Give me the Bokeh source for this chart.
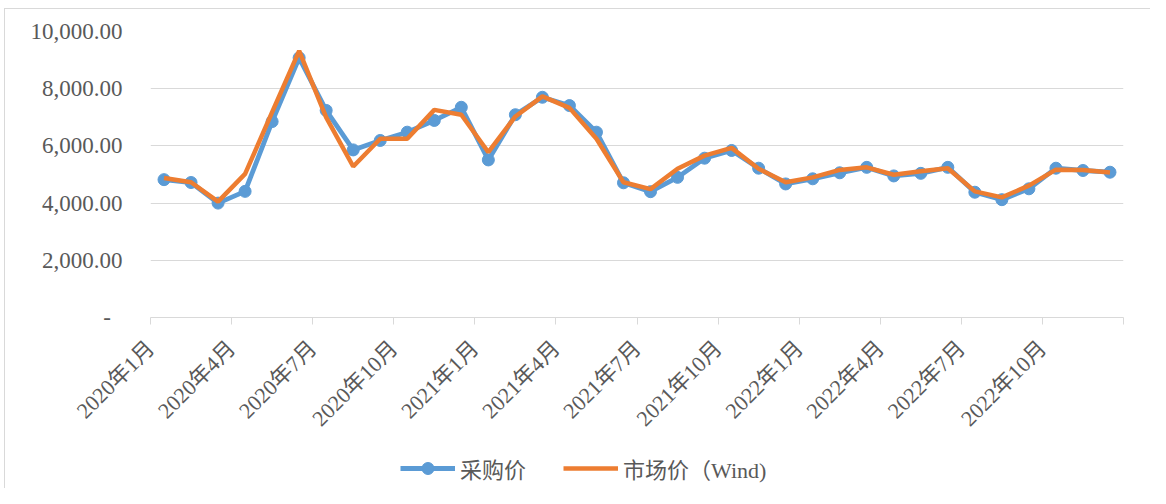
import numpy as np
from bokeh.plotting import figure
from bokeh.layouts import column
from bokeh.models import FixedTicker, Legend, LegendItem, Range1d
from bokeh.embed import file_html
from bokeh.resources import INLINE

# ---- data (monthly, 2020-01 .. 2022-12) ----
purchase = [4820, 4720, 4000, 4410, 6850, 9080, 7240, 5860, 6190, 6480, 6890, 7350,
            5510, 7090, 7700, 7410, 6480, 4710, 4400, 4900, 5570, 5840, 5220, 4670,
            4850, 5060, 5250, 4950, 5040, 5250, 4380, 4120, 4500, 5220, 5140, 5080]
market = [4880, 4730, 4050, 5020, 7180, 9320, 7000, 5280, 6250, 6250, 7260, 7090,
          5780, 7030, 7730, 7330, 6250, 4730, 4490, 5200, 5660, 5930, 5200, 4730,
          4900, 5160, 5250, 4990, 5110, 5220, 4410, 4200, 4610, 5170, 5160, 5070]
tick_labels = ["2020年1月", "2020年4月", "2020年7月", "2020年10月",
               "2021年1月", "2021年4月", "2021年7月", "2021年10月",
               "2022年1月", "2022年4月", "2022年7月", "2022年10月", ""]
y_ticks = [0, 2000, 4000, 6000, 8000, 10000]
y_labels = ["-\u00a0\u00a0", "2,000.00", "4,000.00", "6,000.00", "8,000.00", "10,000.00"]
series_names = ["采购价", "市场价（Wind)"]

BLUE = "#5B9BD5"
ORANGE = "#ED7D31"
GREY = "#595959"
LIGHT = "#d9d9d9"
FONT = "'Liberation Serif', 'Noto Sans CJK SC'"

n = len(purchase)
x = np.arange(n) + 0.5

W = 1150
H1 = 450
H2 = 38

p = figure(width=W, height=H1, x_range=Range1d(0, n), y_range=Range1d(0, 10000),
           output_backend="svg", toolbar_location=None,
           min_border_left=150, min_border_right=27, min_border_top=31,
           min_border_bottom=H1 - 317)
p.outline_line_color = None
p.background_fill_color = "white"
p.border_fill_color = None
p.styles = {"background": ("linear-gradient(%s,%s) 4px 8px / 1px 100%% no-repeat, "
                           "linear-gradient(%s,%s) 4px 8px / 100%% 1px no-repeat, white")
            % (LIGHT, LIGHT, LIGHT, LIGHT)}

p.xgrid.visible = False
p.ygrid.grid_line_color = LIGHT
p.ygrid.grid_line_width = 1

p.yaxis.ticker = FixedTicker(ticks=y_ticks)
p.yaxis.major_label_overrides = {t: l for t, l in zip(y_ticks, y_labels)}
p.yaxis.axis_line_color = None
p.yaxis.major_tick_line_color = None
p.yaxis.minor_tick_line_color = None
p.yaxis.major_tick_out = 0
p.yaxis.major_tick_in = 0
p.yaxis.major_label_standoff = 28
p.yaxis.major_label_text_font = FONT
p.yaxis.major_label_text_font_size = "23px"
p.yaxis.major_label_text_color = GREY

x_ticks = list(range(0, n + 1, 3))
p.xaxis.ticker = FixedTicker(ticks=x_ticks)
p.xaxis.major_label_overrides = {t: l for t, l in zip(x_ticks, tick_labels)}
p.xaxis.axis_line_color = LIGHT
p.xaxis.axis_line_width = 1
p.xaxis.major_tick_line_color = LIGHT
p.xaxis.major_tick_out = 7
p.xaxis.major_tick_in = 0
p.xaxis.minor_tick_line_color = None
p.xaxis.major_label_orientation = np.pi / 4
p.xaxis.major_label_standoff = 20
p.xaxis.major_label_text_font = FONT
p.xaxis.major_label_text_font_size = "22px"
p.xaxis.major_label_text_color = GREY

p.line(x, purchase, line_color=BLUE, line_width=4.8)
p.scatter(x, purchase, size=12, fill_color=BLUE, line_color=BLUE)
p.line(x, market, line_color=ORANGE, line_width=4.5)

# ---- legend strip under the chart (its renderers carry the same series,
#      which lie outside this strip's range, so only the legend shows) ----
q = figure(width=W, height=H2, x_range=Range1d(0, n), y_range=Range1d(-2, -1),
           output_backend="svg", toolbar_location=None,
           x_axis_location=None, y_axis_location=None, min_border=0)
q.outline_line_color = None
q.grid.visible = False
q.background_fill_color = None
q.border_fill_color = None
q.styles = {"background": ("linear-gradient(%s,%s) 4px 0px / 1px 100%% no-repeat, white")
            % (LIGHT, LIGHT)}
kl1 = q.line(x, purchase, line_color=BLUE, line_width=4.8)
ks1 = q.scatter(x, purchase, size=12, fill_color=BLUE, line_color=BLUE)
kl2 = q.line(x, market, line_color=ORANGE, line_width=4.5)

legend = Legend(items=[LegendItem(label=series_names[0], renderers=[kl1, ks1]),
                       LegendItem(label=series_names[1], renderers=[kl2])],
                orientation="horizontal", location=(250, 4),
                glyph_width=55, glyph_height=30, label_standoff=5, spacing=37,
                label_text_font=FONT, label_text_font_size="22px", label_text_color=GREY,
                background_fill_alpha=0, border_line_color=None, padding=0, margin=0)
q.add_layout(legend, "center")

open("out.html", "w").write(file_html(column(p, q, spacing=0), INLINE))
